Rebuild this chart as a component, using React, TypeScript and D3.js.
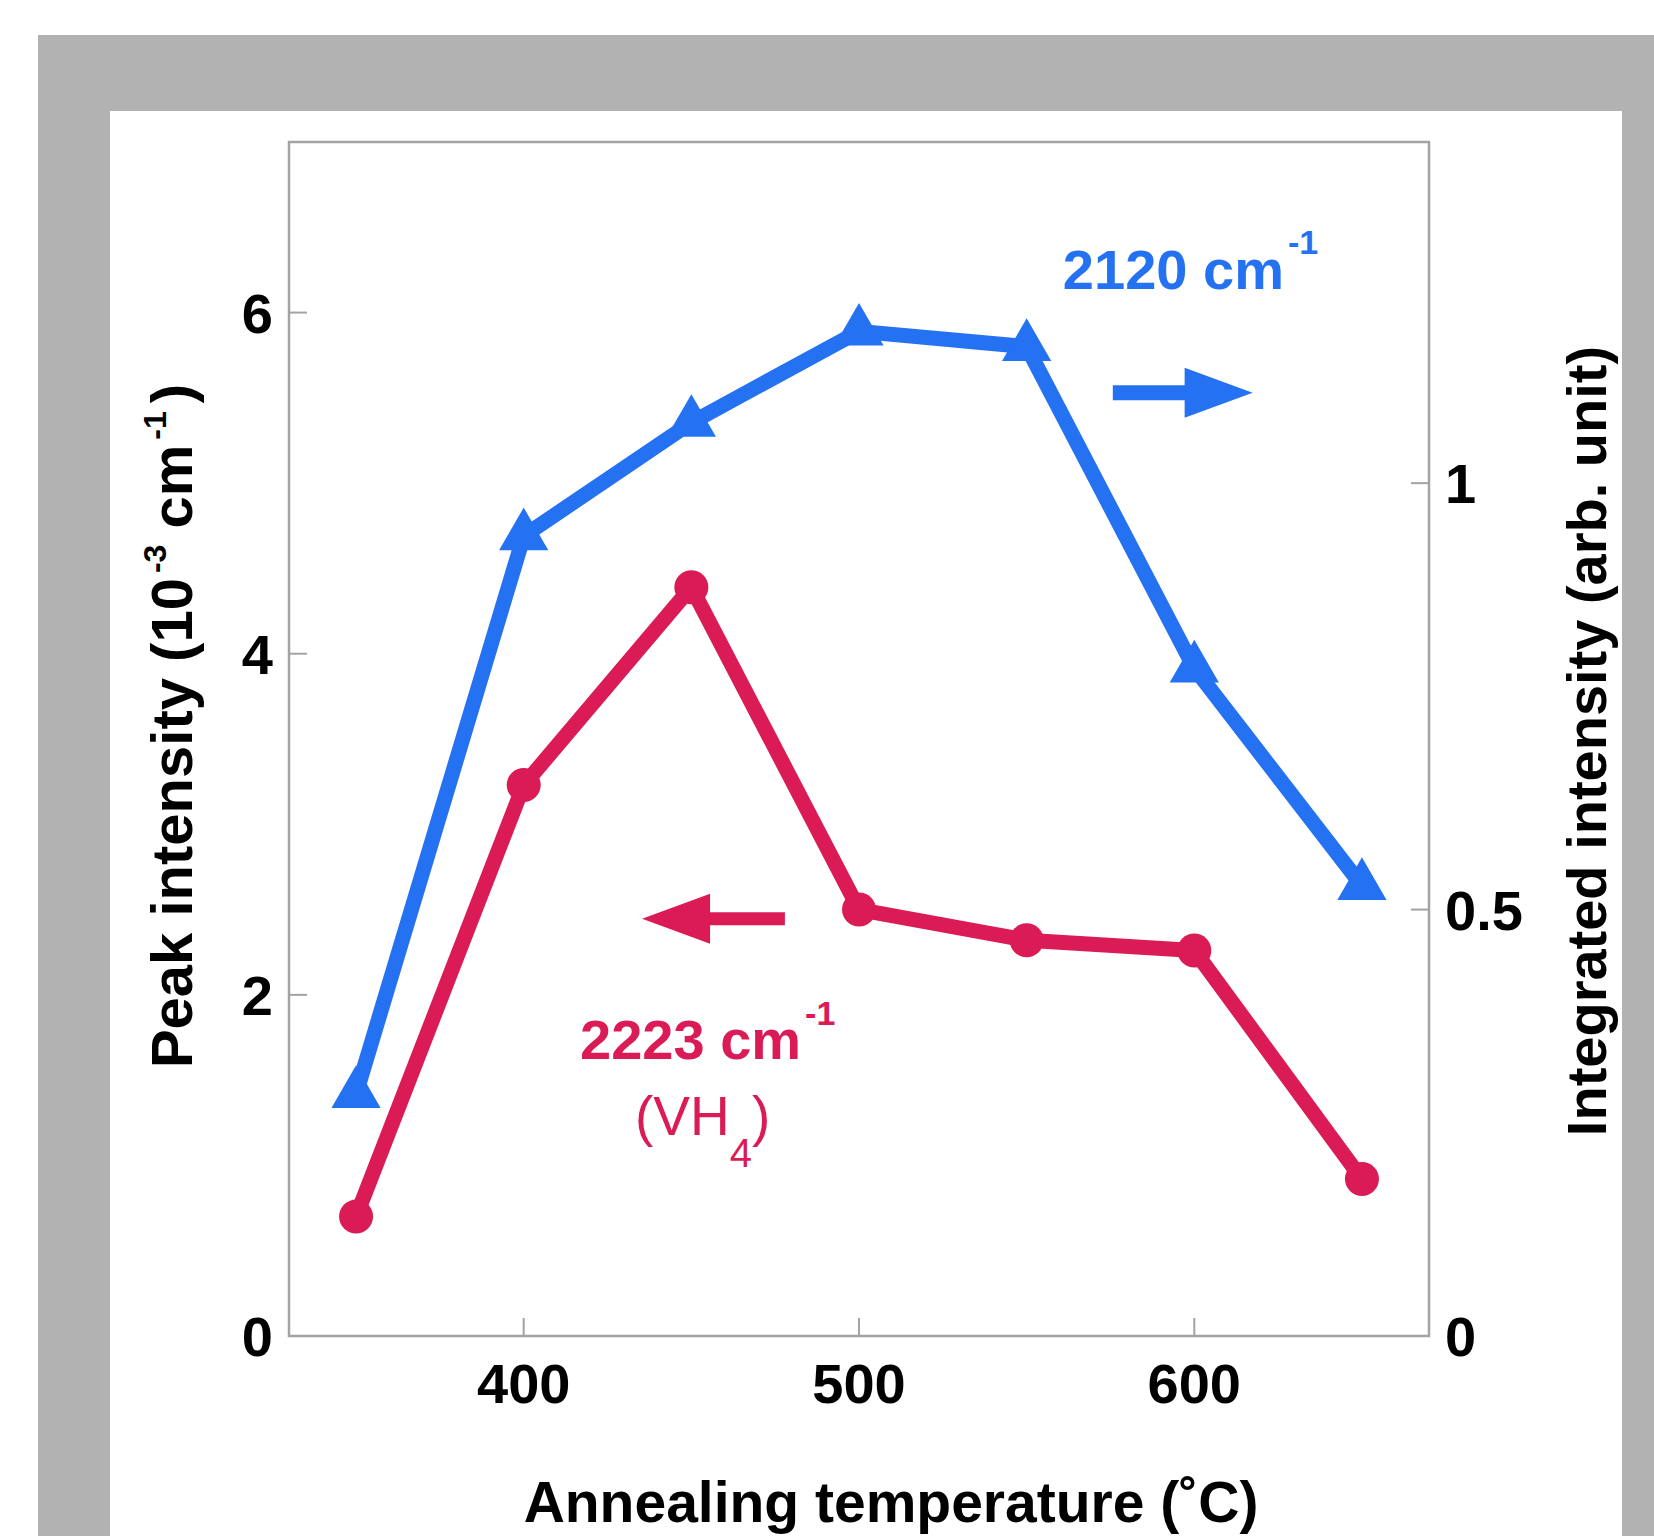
import { useEffect, useRef } from "react";
import * as d3 from "d3";

// annealing temperatures (°C)
const temps = [350, 400, 450, 500, 550, 600, 650];
// 2223 cm-1 (VH4) peak intensity, left axis (10^-3 cm^-1)
const peak2223 = [0.7, 3.23, 4.39, 2.5, 2.32, 2.26, 0.92];
// 2120 cm-1 integrated intensity, right axis (arb. unit)
const integ2120 = [0.284, 0.938, 1.071, 1.178, 1.16, 0.783, 0.528];

const xTicks = [400, 500, 600];
const leftTicks = [0, 2, 4, 6];
const rightTicks = [0, 0.5, 1];
const rightTickLabels = ["0", "0.5", "1"];

const BLUE = "#2472F2";
const RED = "#DB1B55";
const FONT = "'Liberation Sans', Arial, Helvetica, sans-serif";

function AnnealChart() {
  const ref = useRef<SVGSVGElement>(null);

  useEffect(() => {
    const width = 1654;
    const height = 1536;
    const plot = { left: 289, right: 1429, top: 142, bottom: 1336 };

    const svg = d3.select(ref.current);
    svg.selectAll("*").remove();
    svg.attr("width", width).attr("height", height);

    // page background: grey frame + white panel
    svg.append("rect").attr("width", width).attr("height", height).attr("fill", "#fff");
    svg.append("rect").attr("x", 38).attr("y", 35).attr("width", width - 38).attr("height", height - 35).attr("fill", "#B2B2B2");
    svg.append("rect").attr("x", 110).attr("y", 111).attr("width", 1622 - 110).attr("height", height - 111).attr("fill", "#fff");

    const x = d3.scaleLinear().domain([330, 670]).range([plot.left, plot.right]);
    const yL = d3.scaleLinear().domain([0, 7]).range([plot.bottom, plot.top]);
    const yR = d3.scaleLinear().domain([0, 1.4]).range([plot.bottom, plot.top]);

    // frame
    svg.append("rect")
      .attr("x", plot.left).attr("y", plot.top)
      .attr("width", plot.right - plot.left).attr("height", plot.bottom - plot.top)
      .attr("fill", "none").attr("stroke", "#a3a3a3").attr("stroke-width", 2.5);

    const tickLen = 18;
    const tickColor = "#a3a3a3";

    // bottom ticks + labels
    xTicks.forEach(t => {
      svg.append("line").attr("x1", x(t)).attr("x2", x(t))
        .attr("y1", plot.bottom).attr("y2", plot.bottom - tickLen)
        .attr("stroke", tickColor).attr("stroke-width", 2);
      svg.append("text").attr("x", x(t)).attr("y", plot.bottom + 67)
        .attr("text-anchor", "middle").attr("font-family", FONT)
        .attr("font-weight", "bold").attr("font-size", 56).text(t);
    });

    // left ticks + labels
    leftTicks.forEach(t => {
      if (t > 0) {
        svg.append("line").attr("x1", plot.left).attr("x2", plot.left + tickLen)
          .attr("y1", yL(t)).attr("y2", yL(t))
          .attr("stroke", tickColor).attr("stroke-width", 2);
      }
      svg.append("text").attr("x", plot.left - 16).attr("y", yL(t) + 20)
        .attr("text-anchor", "end").attr("font-family", FONT)
        .attr("font-weight", "bold").attr("font-size", 56).text(t);
    });

    // right ticks + labels
    rightTicks.forEach((t, i) => {
      if (t > 0) {
        svg.append("line").attr("x1", plot.right).attr("x2", plot.right - tickLen)
          .attr("y1", yR(t)).attr("y2", yR(t))
          .attr("stroke", tickColor).attr("stroke-width", 2);
      }
      svg.append("text").attr("x", plot.right + 16).attr("y", yR(t) + 20)
        .attr("text-anchor", "start").attr("font-family", FONT)
        .attr("font-weight", "bold").attr("font-size", 56).text(rightTickLabels[i]);
    });

    // axis titles
    svg.append("text").attr("x", 891).attr("y", 1522)
      .attr("text-anchor", "middle").attr("font-family", FONT)
      .attr("font-weight", "bold").attr("font-size", 57)
      .text("Annealing temperature (˚C)");

    const lt = svg.append("text")
      .attr("transform", "translate(192,726) rotate(-90)")
      .attr("text-anchor", "middle").attr("font-family", FONT)
      .attr("font-weight", "bold").attr("font-size", 58);
    lt.append("tspan").text("Peak intensity (10");
    lt.append("tspan").attr("dx", 5).attr("dy", -26).attr("font-size", 32).text("-3");
    lt.append("tspan").attr("dy", 26).text(" cm");
    lt.append("tspan").attr("dx", 5).attr("dy", -26).attr("font-size", 32).text("-1");
    lt.append("tspan").attr("dx", 8).attr("dy", 26).text(")");

    svg.append("text")
      .attr("transform", "translate(1606,741) rotate(-90)")
      .attr("text-anchor", "middle").attr("font-family", FONT)
      .attr("font-weight", "bold").attr("font-size", 56)
      .text("Integrated intensity (arb. unit)");

    // series lines
    const redLine = d3.line<number>().x((_, i) => x(temps[i])).y(d => yL(d));
    const blueLine = d3.line<number>().x((_, i) => x(temps[i])).y(d => yR(d));

    svg.append("path").attr("d", blueLine(integ2120)).attr("fill", "none")
      .attr("stroke", BLUE).attr("stroke-width", 15).attr("stroke-linejoin", "miter");
    svg.append("path").attr("d", redLine(peak2223)).attr("fill", "none")
      .attr("stroke", RED).attr("stroke-width", 15).attr("stroke-linejoin", "round");

    const tri = d3.symbol().type(d3.symbolTriangle).size(1050);
    svg.selectAll("path.tri").data(integ2120).join("path").attr("class", "tri")
      .attr("d", tri())
      .attr("transform", (d, i) => `translate(${x(temps[i])},${yR(d)})`)
      .attr("fill", BLUE);

    svg.selectAll("circle.dot").data(peak2223).join("circle").attr("class", "dot")
      .attr("cx", (_, i) => x(temps[i])).attr("cy", d => yL(d))
      .attr("r", 17).attr("fill", RED);

    // arrows (in data coordinates)
    const arrow = (x0: number, x1: number, y: number, color: string, shaft: number) => {
      const dir = Math.sign(x1 - x0);
      const headLen = 68;
      const baseX = x1 - dir * headLen;
      svg.append("line").attr("x1", x0).attr("x2", baseX + dir * 4)
        .attr("y1", y).attr("y2", y).attr("stroke", color).attr("stroke-width", shaft);
      svg.append("path")
        .attr("d", `M${x1},${y}L${baseX},${y - 25}L${baseX},${y + 25}Z`)
        .attr("fill", color);
    };
    arrow(x(575.7), x(617.4), yR(1.106), BLUE, 15);
    arrow(x(477.9), x(435.3), yL(2.446), RED, 13);

    // series labels
    const bl = svg.append("text").attr("x", x(560.8)).attr("y", yR(1.228))
      .attr("font-family", FONT).attr("font-weight", "bold").attr("font-size", 56).attr("fill", BLUE);
    bl.append("tspan").text("2120 cm");
    bl.append("tspan").attr("dx", 4).attr("dy", -35).attr("font-size", 34).text("-1");

    const rl = svg.append("text").attr("x", x(416.8)).attr("y", yL(1.625))
      .attr("font-family", FONT).attr("font-weight", "bold").attr("font-size", 56).attr("fill", RED);
    rl.append("tspan").text("2223 cm");
    rl.append("tspan").attr("dx", 4).attr("dy", -34).attr("font-size", 34).text("-1");

    const vh = svg.append("text").attr("x", x(433.2)).attr("y", yL(1.179))
      .attr("font-family", FONT).attr("font-size", 55).attr("fill", RED);
    vh.append("tspan").text("(VH");
    vh.append("tspan").attr("dy", 32).attr("font-size", 40).text("4");
    vh.append("tspan").attr("dy", -32).text(")");
  }, []);

  return <svg ref={ref} style={{ display: "block" }}></svg>;
}

export default function App() {
  return (
    <div style={{ position: "absolute", left: 0, top: 0 }}>
      <AnnealChart />
    </div>
  );
}
